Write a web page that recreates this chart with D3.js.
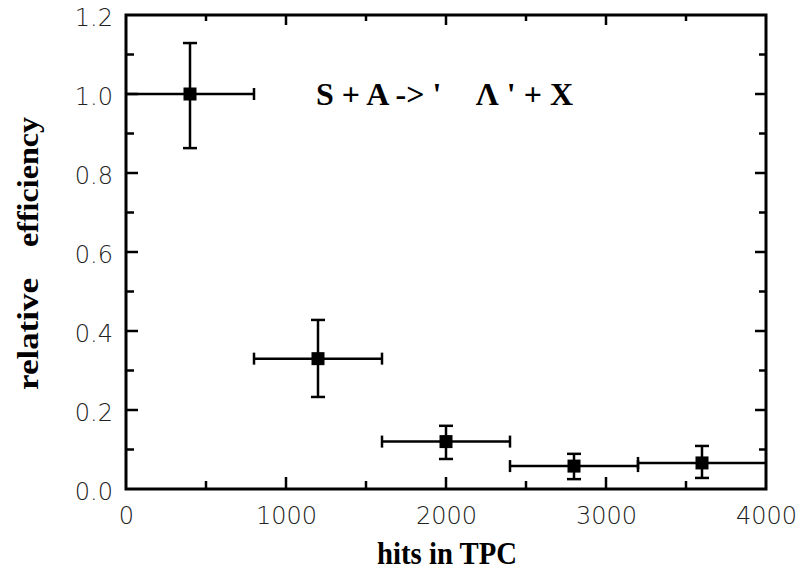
<!DOCTYPE html>
<html><head><meta charset="utf-8">
<script src="https://cdn.jsdelivr.net/npm/d3@7"></script>
<style>body{margin:0;background:#fff}</style>
</head><body>
<svg id="c" width="799" height="573"></svg>
<script>
const xCenters = [400, 1200, 2000, 2800, 3600];
const xLow = [0, 800, 1600, 2400, 3200];
const xHigh = [800, 1600, 2400, 3200, 4000];
const yValues = [1.0, 0.33, 0.12, 0.058, 0.066];
const yLow = [0.863, 0.233, 0.076, 0.025, 0.028];
const yHigh = [1.129, 0.428, 0.16, 0.089, 0.109];
const xTickLabels = ["0", "1000", "2000", "3000", "4000"];
const yTickLabels = ["0.0", "0.2", "0.4", "0.6", "0.8", "1.0", "1.2"];

const svg = d3.select("#c");
const L = 126, R = 766, T = 15, B = 489;
const x = d3.scaleLinear().domain([0, 4000]).range([L, R]);
const y = d3.scaleLinear().domain([0, 1.2]).range([B, T]);

const g = svg.append("g");
g.append("rect").attr("x", L).attr("y", T).attr("width", R - L).attr("height", B - T)
  .attr("fill", "none").attr("stroke", "#000").attr("stroke-width", 3);

const xMajor = d3.range(0, 4001, 1000), xMinor = d3.range(500, 4000, 1000);
const yMajor = d3.range(0, 1.21, 0.2), yMinor = d3.range(0.1, 1.2, 0.2);
const tk = (x1,y1,x2,y2)=>g.append("line").attr("x1",x1).attr("y1",y1).attr("x2",x2).attr("y2",y2).attr("stroke","#000").attr("stroke-width",2.5);
xMajor.slice(1,-1).forEach(v=>{tk(x(v),B,x(v),B-12);tk(x(v),T,x(v),T+10);});
xMinor.forEach(v=>{tk(x(v),B,x(v),B-8);tk(x(v),T,x(v),T+6);});
yMajor.slice(1,-1).forEach(v=>{tk(L,y(v),L+12,y(v));tk(R,y(v),R-11,y(v));});
yMinor.forEach(v=>{tk(L,y(v),L+8,y(v));tk(R,y(v),R-7,y(v));});

const sans = "DejaVu Sans, sans-serif";
const xa = d3.axisBottom(x).tickValues(xMajor).tickFormat((d,i)=>xTickLabels[i]).tickSize(0).tickPadding(18);
const xg = svg.append("g").attr("transform",`translate(0,${B})`).call(xa);
const ya = d3.axisLeft(y).tickValues(yMajor).tickFormat((d,i)=>yTickLabels[i]).tickSize(0).tickPadding(13);
const yg = svg.append("g").attr("transform",`translate(${L},3)`).call(ya);
[xg,yg].forEach(a=>{a.select(".domain").remove();a.selectAll("text").attr("font-family",sans).attr("font-weight",200).attr("font-size",24).attr("fill","#222");});

const data = xCenters.map((c,i)=>({c, xl:xLow[i], xh:xHigh[i], v:yValues[i], yl:yLow[i], yh:yHigh[i]}));
const eb = svg.append("g").attr("stroke","#000").attr("stroke-width",2.5);
data.forEach(d=>{
  eb.append("line").attr("x1",x(d.xl)).attr("x2",x(d.xh)).attr("y1",y(d.v)).attr("y2",y(d.v));
  if (d.xl>0) eb.append("line").attr("x1",x(d.xl)).attr("x2",x(d.xl)).attr("y1",y(d.v)-6).attr("y2",y(d.v)+6);
  if (d.xh<4000) eb.append("line").attr("x1",x(d.xh)).attr("x2",x(d.xh)).attr("y1",y(d.v)-6).attr("y2",y(d.v)+6);
  eb.append("line").attr("x1",x(d.c)).attr("x2",x(d.c)).attr("y1",y(d.yl)).attr("y2",y(d.yh));
  eb.append("line").attr("x1",x(d.c)-7).attr("x2",x(d.c)+7).attr("y1",y(d.yl)).attr("y2",y(d.yl));
  eb.append("line").attr("x1",x(d.c)-7).attr("x2",x(d.c)+7).attr("y1",y(d.yh)).attr("y2",y(d.yh));
});
svg.append("g").selectAll("rect").data(data).join("rect")
  .attr("x",d=>x(d.c)-6.5).attr("y",d=>y(d.v)-6.5).attr("width",13).attr("height",13).attr("fill","#000");

const serif = "Liberation Serif, Times New Roman, serif";
svg.append("text").attr("x",447).attr("y",564).attr("text-anchor","middle")
  .attr("font-family",serif).attr("font-weight","bold").attr("font-size",31)
  .attr("textLength",140).attr("lengthAdjust","spacingAndGlyphs").text("hits in TPC");
svg.append("text").attr("transform","translate(38,390) rotate(-90)")
  .attr("font-family",serif).attr("font-weight","bold").attr("font-size",30)
  .attr("textLength",112).attr("lengthAdjust","spacingAndGlyphs").text("relative");
svg.append("text").attr("transform","translate(38,247) rotate(-90)")
  .attr("font-family",serif).attr("font-weight","bold").attr("font-size",30)
  .attr("textLength",130).attr("lengthAdjust","spacingAndGlyphs").text("efficiency");
svg.append("text").attr("x",316).attr("y",105).attr("font-family",serif).attr("font-weight","bold")
  .attr("font-size",32).attr("xml:space","preserve").text("S + A -> '");
svg.append("text").attr("x",573).attr("y",105).attr("text-anchor","end").attr("font-family",serif).attr("font-weight","bold")
  .attr("font-size",32).attr("xml:space","preserve").text("Λ ' + X");
</script>
</body></html>
